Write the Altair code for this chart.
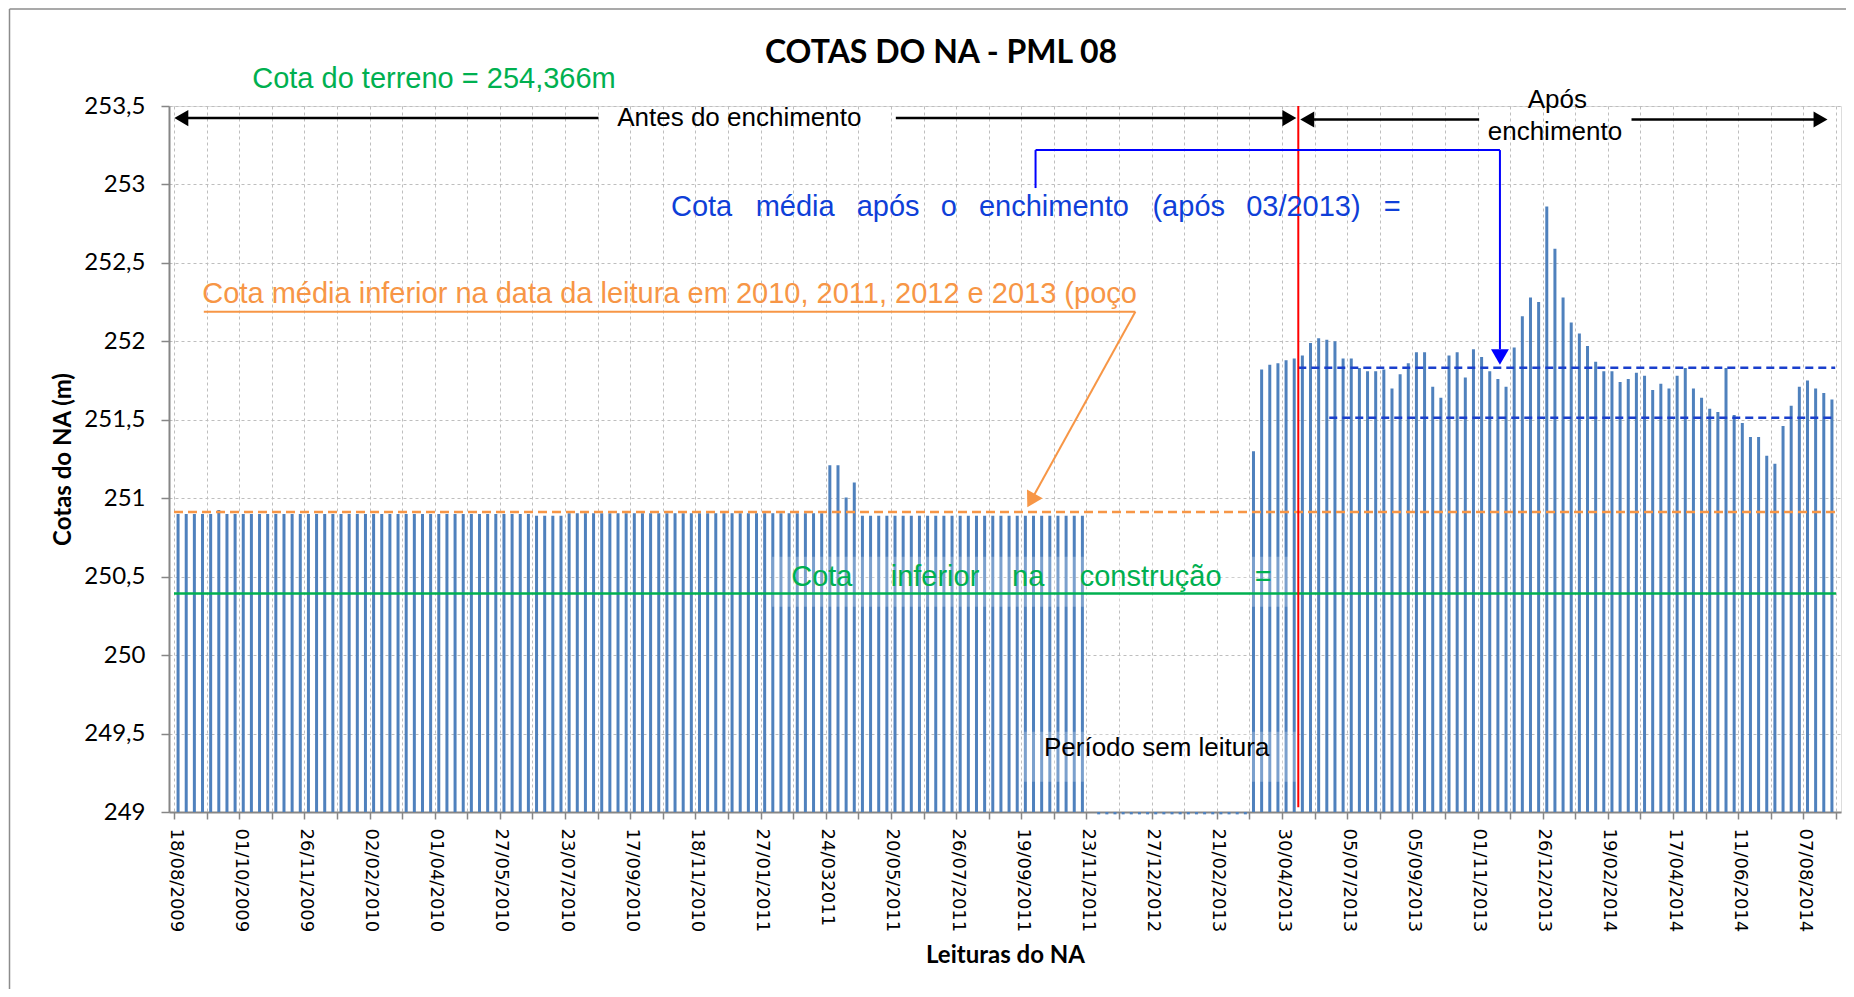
import json
import altair as alt
import pandas as pd

TITLE = "COTAS DO NA - PML 08"
X_TITLE = "Leituras do NA"
Y_TITLE = "Cotas do NA (m)"

# x tick labels: one every 8 readings (reading index 0, 8, 16, ... 200)
date_labels = ["18/08/2009", "01/10/2009", "26/11/2009", "02/02/2010", "01/04/2010",
               "27/05/2010", "23/07/2010", "17/09/2010", "18/11/2010", "27/01/2011",
               "24/032011", "20/05/2011", "26/07/2011", "19/09/2011", "23/11/2011",
               "27/12/2012", "21/02/2013", "30/04/2013", "05/07/2013", "05/09/2013",
               "01/11/2013", "26/12/2013", "19/02/2014", "17/04/2014", "11/06/2014",
               "07/08/2014"]
n_readings = 204

# readings 0..111 (before filling)
antes = [
    250.90, 250.90, 250.90, 250.90, 250.90, 250.925, 250.90, 250.90, 250.90, 250.90,
    250.90, 250.90, 250.90, 250.90, 250.90, 250.90, 250.90, 250.90, 250.90, 250.90,
    250.90, 250.90, 250.90, 250.90, 250.90, 250.90, 250.90, 250.90, 250.90, 250.90,
    250.90, 250.90, 250.90, 250.90, 250.90, 250.90, 250.90, 250.90, 250.90, 250.90,
    250.90, 250.90, 250.90, 250.90, 250.888, 250.888, 250.888, 250.888, 250.905, 250.905,
    250.905, 250.905, 250.905, 250.905, 250.905, 250.905, 250.905, 250.905, 250.905, 250.905,
    250.905, 250.905, 250.905, 250.905, 250.905, 250.905, 250.905, 250.905, 250.905, 250.905,
    250.905, 250.905, 250.905, 250.905, 250.905, 250.905, 250.905, 250.905, 250.905, 250.905,
    251.21, 251.21, 251.005, 251.10, 250.888, 250.888, 250.888, 250.888, 250.888, 250.888,
    250.888, 250.888, 250.888, 250.888, 250.888, 250.888, 250.888, 250.888, 250.888, 250.888,
    250.888, 250.888, 250.888, 250.888, 250.888, 250.888, 250.888, 250.888, 250.888, 250.888,
    250.888, 250.888,
]
# readings 113..131 (period without reading, drawn at the very bottom)
sem_leitura = [248.985, 248.985, 248.985, 248.985, 248.985, 248.985, 248.985, 248.985,
               248.985, 248.985, 248.985, 248.985, 248.985, 248.985, 248.985, 248.985,
               248.985, 248.985, 248.985]
# readings 132..203
apos = [
    251.30, 251.82, 251.85, 251.86, 251.88, 251.89, 251.91, 251.99, 252.02, 252.01,
    252.00, 251.89, 251.89, 251.83, 251.81, 251.81, 251.82, 251.70, 251.79, 251.86,
    251.93, 251.93, 251.71, 251.64, 251.91, 251.93, 251.77, 251.95, 251.90, 251.81,
    251.76, 251.71, 251.96, 252.16, 252.28, 252.25, 252.86, 252.59, 252.28, 252.12,
    252.05, 251.97, 251.87, 251.81, 251.81, 251.74, 251.76, 251.80, 251.78, 251.69,
    251.73, 251.70, 251.78, 251.83, 251.70, 251.64, 251.57, 251.55, 251.83, 251.53,
    251.48, 251.39, 251.39, 251.27, 251.22, 251.46, 251.59, 251.71, 251.75, 251.70,
    251.67, 251.63,
]
start_antes, start_sem, start_apos = 0, 113, 132

# reference levels
cota_inferior_construcao = 250.392
cota_media_inferior = 250.912
cota_media_apos_1 = 251.832
cota_media_apos_2 = 251.513
inicio_enchimento = 138.0
y_ticks = [249, 249.5, 250, 250.5, 251, 251.5, 252, 252.5, 253, 253.5]

# ---------------------------------------------------------------- data tables
rows = []
for start, vals in ((start_antes, antes), (start_sem, sem_leitura), (start_apos, apos)):
    for k, v in enumerate(vals):
        rows.append({"x": start + k + 0.5, "y": v, "base": 249.0})
bars_df = pd.DataFrame(rows)

xscale = alt.Scale(domain=[0, n_readings], nice=False, zero=False)
yscale = alt.Scale(domain=[249, 253.5], nice=False, zero=False)

label_expr = "datum.value % 8 == 0 ? " + json.dumps(date_labels) + "[datum.value / 8] : ''"
xaxis = alt.Axis(values=list(range(0, n_readings + 1, 4)), labelExpr=label_expr,
                 labelAngle=90, labelFont="DejaVu Sans", labelFontSize=18, labelColor="black",
                 labelPadding=9, labelOffset=1, labelOverlap=False, labelBound=False, labelFlush=False,
                 tickSize=7, tickColor="#868686", tickWidth=1.5,
                 domainColor="#868686", domainWidth=2,
                 grid=True, gridColor="#BEBEBE", gridDash=[3, 3], gridWidth=1,
                 title=X_TITLE, titleFont="Lato", titleFontSize=24, titleFontWeight="bold",
                 titleColor="black", titleY=150, titleBaseline="alphabetic")
yaxis = alt.Axis(values=y_ticks, labelExpr="replace(format(datum.value, '~g'), '.', ',')",
                 labelFont="Lato", labelFontSize=24, labelColor="black", labelPadding=16,
                 tickSize=8, tickColor="#868686", tickWidth=1.5,
                 domainColor="#868686", domainWidth=2,
                 grid=True, gridColor="#BEBEBE", gridDash=[3, 3], gridWidth=1,
                 title=Y_TITLE, titleFont="Lato", titleFontSize=24, titleFontWeight="bold",
                 titleColor="black", titleAngle=-90, titleX=-99, titleY=353,
                 titleBaseline="alphabetic", titleAlign="center")


def X(f="x"):
    return alt.X(f + ":Q", scale=xscale, axis=xaxis)


def Y(f="y"):
    return alt.Y(f + ":Q", scale=yscale, axis=yaxis)


bars = alt.Chart(bars_df).mark_bar(size=3, color="#4F81BD").encode(
    x=X(), y=Y(), y2=alt.Y2("base:Q"))


def rules(segs, color, width, dash=None):
    df = pd.DataFrame(segs, columns=["x", "x2", "y", "y2"])
    kw = dict(color=color, strokeWidth=width)
    if dash:
        kw["strokeDash"] = dash
    return alt.Chart(df).mark_rule(**kw).encode(
        x=X(), x2=alt.X2("x2:Q"), y=Y(), y2=alt.Y2("y2:Q"))


def texts(items, color, size, align="left", font="Liberation Sans"):
    df = pd.DataFrame(items, columns=["t", "x", "y"])
    return alt.Chart(df).mark_text(align=align, baseline="middle", font=font,
                                   fontSize=size, color=color).encode(
        x=X(), y=Y(), text="t:N")


def heads(items, color, shape, size, angle=0):
    df = pd.DataFrame(items, columns=["x", "y"])
    kw = dict(shape=shape, filled=True, size=size, color=color, opacity=1)
    if angle:
        kw["angle"] = angle
    return alt.Chart(df).mark_point(**kw).encode(x=X(), y=Y())


boxes_df = pd.DataFrame([
    {"x": 73.4, "x2": 136.95, "y": 250.627, "y2": 250.308},
    {"x": 104.3, "x2": 137.9, "y": 249.512, "y2": 249.193},
])
boxes = alt.Chart(boxes_df).mark_rect(color="white", opacity=0.25).encode(
    x=X(), x2=alt.X2("x2:Q"), y=Y(), y2=alt.Y2("y2:Q"))

green_line = rules([(0, n_readings, cota_inferior_construcao, cota_inferior_construcao)], "#00B050", 2.5)
orange_dash = rules([(0, n_readings, cota_media_inferior, cota_media_inferior)], "#F79646", 2.5, [9, 5])
blue_dash = rules([(inicio_enchimento, 203.9, cota_media_apos_1, cota_media_apos_1),
                   (141.8, n_readings, cota_media_apos_2, cota_media_apos_2)], "#1A3FCC", 2.5, [8, 5])
red_line = rules([(inicio_enchimento, inicio_enchimento, 249.03, 253.5)], "#FF0000", 2)

black_arrows = rules([(0.9, 52.1, 253.423, 253.423), (88.6, 136.9, 253.423, 253.423),
                      (139.1, 160.2, 253.414, 253.414), (178.9, 202.1, 253.414, 253.414)],
                     "black", 2.5)
black_heads_l = heads([(0.9, 253.423), (139.1, 253.414)], "black", "triangle-left", 260)
black_heads_r = heads([(136.9, 253.423), (202.1, 253.414)], "black", "triangle-right", 260)

blue_bracket = rules([(105.75, 105.75, 252.977, 253.219), (105.75, 162.75, 253.219, 253.219),
                      (162.75, 162.75, 253.219, 251.95)], "#0000FF", 2)
blue_head = heads([(162.75, 251.90)], "#0000FF", "triangle-down", 320)

orange_lines = rules([(3.66, 118.0, 252.189, 252.189), (118.0, 105.2, 252.189, 250.985)], "#F79646", 2)
orange_head = heads([(105.2, 250.985)], "#F79646", "triangle-up", 320, angle=209)

t_terreno = texts([("Cota do terreno = 254,366m", 9.6, 253.672)], "#00B050", 29)
t_antes = texts([("Antes do enchimento", 54.4, 253.423)], "black", 26)
t_apos = texts([("Após", 169.8, 253.538), ("enchimento", 169.5, 253.334)], "black", 26, align="center")
t_blue = texts([("Cota", 61.0, 252.856), ("média", 71.4, 252.856), ("após", 83.8, 252.856),
                ("o", 94.1, 252.856), ("enchimento", 98.8, 252.856), ("(após", 120.1, 252.856),
                ("03/2013)", 131.6, 252.856), ("=", 148.5, 252.856)], "#0F3FD8", 29)
t_orange = texts([("Cota média inferior na data da leitura em 2010, 2011, 2012 e 2013 (poço",
                   3.48, 252.301)], "#F79646", 29)
t_green = texts([("Cota", 75.76, 250.498), ("inferior", 87.97, 250.498), ("na", 102.87, 250.498),
                 ("construção", 111.17, 250.498), ("=", 132.66, 250.498)], "#00B050", 29)
t_periodo = texts([("Período sem leitura", 106.78, 249.405)], "black", 26)

title = alt.Chart(pd.DataFrame({"t": [TITLE]})).mark_text(
    align="center", baseline="middle", font="Lato", fontSize=32, fontWeight="bold", color="black"
).encode(text="t:N", x=alt.value(772), y=alt.value(-53))

frame = alt.Chart(pd.DataFrame({"a": [0]})).mark_rule(color="#8C8C8C", strokeWidth=1.5).encode(
    x=alt.value(-159.5), y=alt.value(-97), y2=alt.value(883))
frame_top = alt.Chart(pd.DataFrame({"a": [0]})).mark_rule(color="#8C8C8C", strokeWidth=1.5).encode(
    x=alt.value(-159.5), x2=alt.value(1677), y=alt.value(-97))

chart = alt.layer(
    bars, boxes, orange_dash, green_line, blue_dash, red_line,
    black_arrows, black_heads_l, black_heads_r, blue_bracket, blue_head,
    orange_lines, orange_head,
    t_terreno, t_antes, t_apos, t_blue, t_orange, t_green, t_periodo,
    title, frame, frame_top,
).properties(
    width=1672, height=706,
    autosize=alt.AutoSizeParams(type="none"),
    padding={"left": 161, "top": 98, "right": 5, "bottom": 177},
).configure_view(stroke=None).configure(background="white")

chart.save("out.html", embed_options={"renderer": "svg", "actions": False})
